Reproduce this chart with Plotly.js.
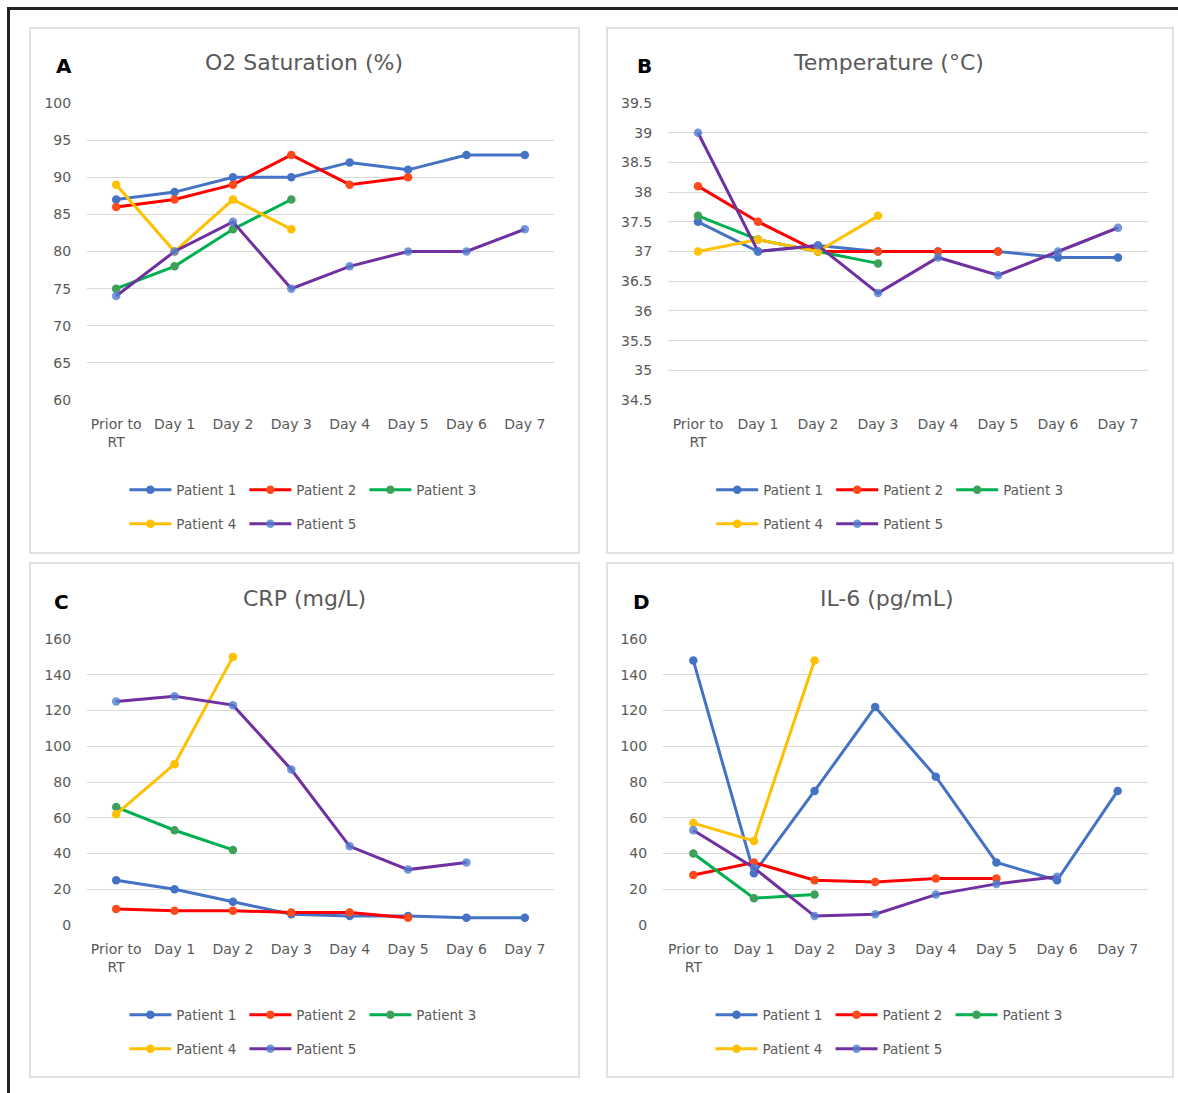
<!DOCTYPE html>
<html>
<head>
<meta charset="utf-8">
<script src="https://cdn.plot.ly/plotly-3.0.1.min.js"></script>
<style>
  html, body { margin: 0; padding: 0; background: #fff; }
  body { width: 1178px; height: 1093px; position: relative; overflow: hidden; }
  #frame { position: absolute; left: 7px; top: 7px; width: 1200px; height: 1200px;
           border-top: 3px solid #222; border-left: 3px solid #222; }
  .panel { position: absolute; box-sizing: border-box; border: 2px solid #e0e0e0; background: #fff; }
</style>
</head>
<body>
<div id="frame"></div>
<div id="pA" class="panel" style="left:29px;top:27px;width:551px;height:527px;"></div>
<div id="pB" class="panel" style="left:606px;top:27px;width:568px;height:527px;"></div>
<div id="pC" class="panel" style="left:29px;top:562px;width:551px;height:516px;"></div>
<div id="pD" class="panel" style="left:606px;top:562px;width:568px;height:516px;"></div>
<script>
// ---------- data ----------
var categories = ['Prior to<br>RT', 'Day 1', 'Day 2', 'Day 3', 'Day 4', 'Day 5', 'Day 6', 'Day 7'];
var patients = ['Patient 1', 'Patient 2', 'Patient 3', 'Patient 4', 'Patient 5'];

// O2 Saturation (%)
var o2_p1 = [87, 88, 90, 90, 92, 91, 93, 93];
var o2_p2 = [86, 87, 89, 93, 89, 90];
var o2_p3 = [75, 78, 83, 87];
var o2_p4 = [89, 80, 87, 83];
var o2_p5 = [74, 80, 84, 75, 78, 80, 80, 83];
var o2_ticks = [60, 65, 70, 75, 80, 85, 90, 95, 100];

// Temperature (°C)
var temp_p1 = [37.5, 37.0, 37.1, 37.0, 37.0, 37.0, 36.9, 36.9];
var temp_p2 = [38.1, 37.5, 37.0, 37.0, 37.0, 37.0];
var temp_p3 = [37.6, 37.2, 37.0, 36.8];
var temp_p4 = [37.0, 37.2, 37.0, 37.6];
var temp_p5 = [39.0, 37.0, 37.1, 36.3, 36.9, 36.6, 37.0, 37.4];
var temp_ticks = [34.5, 35, 35.5, 36, 36.5, 37, 37.5, 38, 38.5, 39, 39.5];

// CRP (mg/L)
var crp_p1 = [25, 20, 13, 6, 5, 5, 4, 4];
var crp_p2 = [9, 8, 8, 7, 7, 4];
var crp_p3 = [66, 53, 42];
var crp_p4 = [62, 90, 150];
var crp_p5 = [125, 128, 123, 87, 44, 31, 35];
var crp_ticks = [0, 20, 40, 60, 80, 100, 120, 140, 160];

// IL-6 (pg/mL)
var il6_p1 = [148, 29, 75, 122, 83, 35, 25, 75];
var il6_p2 = [28, 35, 25, 24, 26, 26];
var il6_p3 = [40, 15, 17];
var il6_p4 = [57, 47, 148];
var il6_p5 = [53, 32, 5, 6, 17, 23, 27];
var il6_ticks = [0, 20, 40, 60, 80, 100, 120, 140, 160];

// ---------- styles ----------
var lineColors = ['#4472C4', '#FF0000', '#00B050', '#FFC000', '#7030A0'];
var markerColors = ['#4472C4', '#FF4A1C', '#3FA05A', '#FFC000', 'rgba(80,125,205,0.8)'];
var FONT = 'DejaVu Sans, sans-serif';
var GRAY = '#595959';

function makePanel(id, letter, title, series, ticks, range, geom) {
  var el = document.getElementById(id);
  var W = el.clientWidth, H = el.clientHeight;
  var plotH = H - geom.t - geom.b;
  var traces = series.map(function (vals, i) {
    return {
      type: 'scatter', mode: 'lines+markers',
      name: patients[i],
      x: categories.slice(0, vals.length),
      y: vals,
      line: { color: lineColors[i], width: 3 },
      marker: { color: markerColors[i], size: 8.5, symbol: 'circle' },
      legend: i < 3 ? 'legend' : 'legend2',
      hoverinfo: 'x+y+name'
    };
  });
  var legBase = {
    orientation: 'h', xanchor: 'left', yanchor: 'middle',
    x: geom.legX, itemwidth: 42, entrywidth: 63, entrywidthmode: 'pixels',
    bgcolor: 'rgba(0,0,0,0)', borderwidth: 0,
    font: { family: FONT, size: 13.5, color: GRAY },
    traceorder: 'normal', itemclick: false, itemdoubleclick: false
  };
  var layout = {
    width: W, height: H,
    margin: { l: geom.l, r: geom.r, t: geom.t, b: geom.b, pad: 0 },
    paper_bgcolor: 'rgba(0,0,0,0)', plot_bgcolor: 'rgba(0,0,0,0)',
    font: { family: FONT, color: GRAY },
    showlegend: true,
    legend: Object.assign({}, legBase, { y: -90 / plotH }),
    legend2: Object.assign({}, legBase, { y: -124 / plotH }),
    xaxis: {
      type: 'category', categoryorder: 'array', categoryarray: categories,
      range: [-0.5, categories.length - 0.5],
      showgrid: false, zeroline: false, showline: false,
      ticks: 'outside', ticklen: 11, tickcolor: 'rgba(0,0,0,0)',
      tickfont: { family: FONT, size: 14, color: GRAY }, fixedrange: true
    },
    yaxis: {
      range: range, tickmode: 'array', tickvals: ticks,
      showgrid: true, gridcolor: '#D9D9D9', gridwidth: 1,
      zeroline: false, showline: false,
      ticks: 'outside', ticklen: 12, tickcolor: 'rgba(0,0,0,0)',
      tickfont: { family: FONT, size: 14, color: GRAY }, fixedrange: true
    },
    annotations: [
      { text: title, xref: 'paper', yref: 'paper', x: geom.titleX, xanchor: 'center',
        y: 1 + geom.titleDy / plotH, yanchor: 'middle', showarrow: false,
        font: { family: FONT, size: 22, color: GRAY } },
      { text: '<b>' + letter + '</b>', xref: 'paper', yref: 'paper', x: geom.letX, xanchor: 'center',
        y: 1 + geom.letDy / plotH, yanchor: 'middle', showarrow: false,
        font: { family: FONT, size: 20, color: '#000' } }
    ]
  };
  Plotly.newPlot(el, traces, layout, { displayModeBar: false, staticPlot: false });
}

// geometry per panel (pixel offsets inside each box)
makePanel('pA', 'A', 'O2 Saturation (%)', [o2_p1, o2_p2, o2_p3, o2_p4, o2_p5], o2_ticks, [60, 100],
  { l: 56, r: 24, t: 74, b: 152, legX: 0.08, titleX: 0.465, titleDy: 41, letX: -0.05, letDy: 37 });
makePanel('pB', 'B', 'Temperature (°C)', [temp_p1, temp_p2, temp_p3, temp_p4, temp_p5], temp_ticks, [34.5, 39.5],
  { l: 60, r: 24, t: 74, b: 152, legX: 0.09, titleX: 0.46, titleDy: 41, letX: -0.05, letDy: 37 });
makePanel('pC', 'C', 'CRP (mg/L)', [crp_p1, crp_p2, crp_p3, crp_p4, crp_p5], crp_ticks, [0, 160],
  { l: 56, r: 24, t: 75, b: 151, legX: 0.08, titleX: 0.465, titleDy: 41, letX: -0.055, letDy: 37 });
makePanel('pD', 'D', 'IL-6 (pg/mL)', [il6_p1, il6_p2, il6_p3, il6_p4, il6_p5], il6_ticks, [0, 160],
  { l: 55, r: 24, t: 75, b: 151, legX: 0.098, titleX: 0.46, titleDy: 41, letX: -0.045, letDy: 37 });
</script>
</body>
</html>
